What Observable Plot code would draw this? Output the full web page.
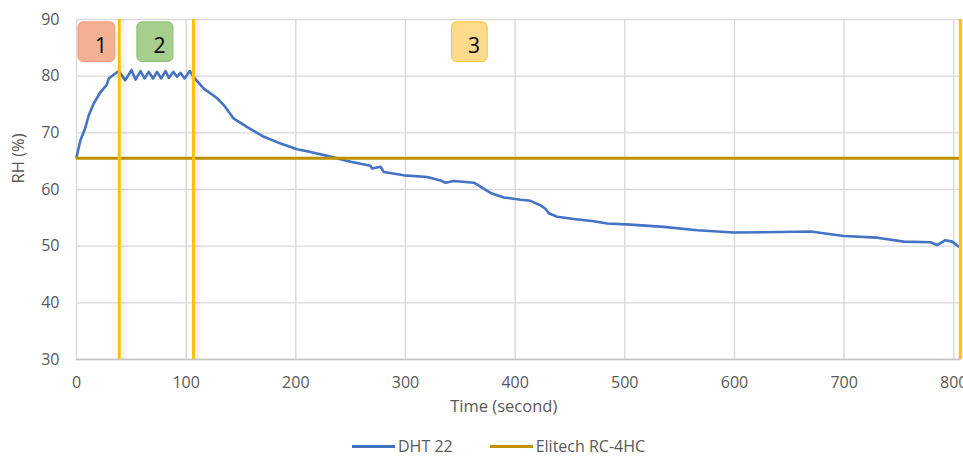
<!DOCTYPE html>
<html><head><meta charset="utf-8">
<script src="https://cdn.jsdelivr.net/npm/d3@7"></script>
<script src="https://cdn.jsdelivr.net/npm/@observablehq/plot@0.6"></script>
<style>
body{margin:0;background:#fff;font-family:"Open Sans",sans-serif;}
#chart{position:relative;width:963px;height:457px;}
.legend{position:absolute;top:437px;left:352px;height:18px;line-height:18px;display:flex;align-items:center;font-size:16px;color:#595959;white-space:nowrap;}
.sw{display:inline-block;width:43px;height:3px;margin-right:3px;}
</style></head><body><div id="chart"></div>
<script>
// DHT 22 readings (time in seconds, RH in %)
const timeSec = [0, 3.6, 8.2, 11.2, 15.8, 21.9, 27.4, 29.5, 35.6, 38.6, 44.4, 50.2, 53.8, 58.4, 62, 65.9, 69.9, 73.5, 77.2, 81.2, 84.2, 88.2, 91.8, 94.8, 98.5, 103.3, 107, 116.1, 128.3, 134.3, 143.5, 155.7, 170.9, 186.2, 201.2, 213.4, 231.6, 250, 268, 269.6, 277.2, 280.3, 298.5, 319.8, 331.9, 336.5, 344.1, 362.3, 368.4, 377.5, 389.7, 404.9, 414, 423.1, 427.7, 430.7, 438.3, 453.5, 471.7, 483.9, 505.2, 535.6, 566, 599.4, 642, 669.3, 699.7, 730.2, 754.4, 778.8, 784.8, 792.4, 798.5, 804.6];
const rhDHT22 = [65.7, 68.7, 71.0, 73.1, 75.2, 77.2, 78.4, 79.6, 80.5, 80.9, 79.3, 81.05, 79.4, 80.9, 79.6, 80.75, 79.6, 80.75, 79.6, 80.9, 79.7, 80.75, 79.9, 80.6, 79.6, 80.9, 79.8, 77.8, 76.1, 74.9, 72.5, 71.0, 69.3, 68.1, 67.1, 66.6, 65.8, 64.9, 64.2, 63.7, 64.0, 63.1, 62.5, 62.2, 61.6, 61.2, 61.5, 61.2, 60.5, 59.4, 58.6, 58.2, 58.0, 57.2, 56.6, 55.8, 55.2, 54.8, 54.4, 54.0, 53.8, 53.4, 52.8, 52.4, 52.5, 52.6, 51.8, 51.5, 50.8, 50.7, 50.2, 51.05, 50.8, 49.9];
// Elitech RC-4HC reading (constant)
const rhElitech = 65.5;
// Phase boundaries (seconds) and phase labels
const phaseBounds = [39, 106.6, 806];
const phaseLabels = ["1", "2", "3"];
const phaseLabelStart = [1.8, 55.5, 342.5];
const phaseLabelEnd = [35.5, 88.4, 375];
const phaseLabelLow = 82.5;
const phaseLabelHigh = 89.5;
// Axis ticks
const xTicks = [0, 100, 200, 300, 400, 500, 600, 700, 800];
const yTicks = [30, 40, 50, 60, 70, 80, 90];
const seriesNames = ["DHT 22", "Elitech RC-4HC"];

const dht = timeSec.map((t, i) => ({t, rh: rhDHT22[i]}));
const boxes = phaseLabels.map((label, i) => ({label, x1: phaseLabelStart[i], x2: phaseLabelEnd[i], y1: phaseLabelLow, y2: phaseLabelHigh}));
const boxFill = ["#F5AF92", "#A6CE8C", "#FFD98C"];
const boxStroke = ["#F19A78", "#8DBE6E", "#FFC72C"];

const shadows = [1, 2, 3, 4, 5, 6, 7].map(k =>
  Plot.ruleX(phaseBounds, {stroke: "#000", strokeOpacity: 0.05 * (1 - k / 8), strokeWidth: 1.5, dx: 1.5 + k}));

const chart = Plot.plot({
  width: 963, height: 430,
  marginTop: 19, marginBottom: 71, marginLeft: 76, marginRight: 2.5,
  style: {fontFamily: "'Open Sans', sans-serif", fontSize: "16px", color: "#595959", background: "#fff"},
  x: {domain: [0, 806.6], ticks: xTicks, tickSize: 0, tickPadding: 17, label: null},
  y: {domain: [30, 90], ticks: yTicks, tickSize: 0, tickPadding: 17, label: null},
  marks: [
    Plot.ruleX(xTicks, {stroke: "#d9d9d9", strokeWidth: 1.4}),
    Plot.ruleY(yTicks, {stroke: "#d9d9d9", strokeWidth: 1.4}),
    Plot.ruleY([30], {stroke: "#c4c4c4", strokeWidth: 1.5}),
    Plot.rect(boxes, {x1: "x1", x2: "x2", y1: "y1", y2: "y2", fill: (d, i) => boxFill[i], stroke: (d, i) => boxStroke[i], strokeWidth: 1, rx: 5}),
    Plot.text(boxes, {x: d => (d.x1 + d.x2) / 2, y: d => (d.y1 + d.y2) / 2, text: "label", fill: "#000", fontSize: 21, dx: 4, dy: 4}),
    Plot.line(dht, {x: "t", y: "rh", stroke: "#4472C4", strokeWidth: 2.6}),
    Plot.ruleY([rhElitech], {stroke: "#BF9000", strokeWidth: 3}),
    ...shadows,
    Plot.ruleX(phaseBounds, {stroke: "#FFC000", strokeWidth: 3}),
    Plot.text(["Time (second)"], {frameAnchor: "bottom", dy: 52, dx: -15, fontSize: 16.5, fill: "#595959"}),
    Plot.text(["RH (%)"], {frameAnchor: "left", rotate: -90, dx: -58, dy: -6, fontSize: 16.5, fill: "#595959"})
  ]
});
const root = document.getElementById("chart");
root.appendChild(chart);
const legend = document.createElement("div");
legend.className = "legend";
const colors = ["#4472C4", "#BF9000"];
legend.innerHTML = seriesNames.map((n, i) =>
  `<span class="sw" style="background:${colors[i]}"></span><span style="margin-right:${i === 0 ? 37 : 0}px">${n}</span>`).join("");
root.appendChild(legend);
</script></body></html>
